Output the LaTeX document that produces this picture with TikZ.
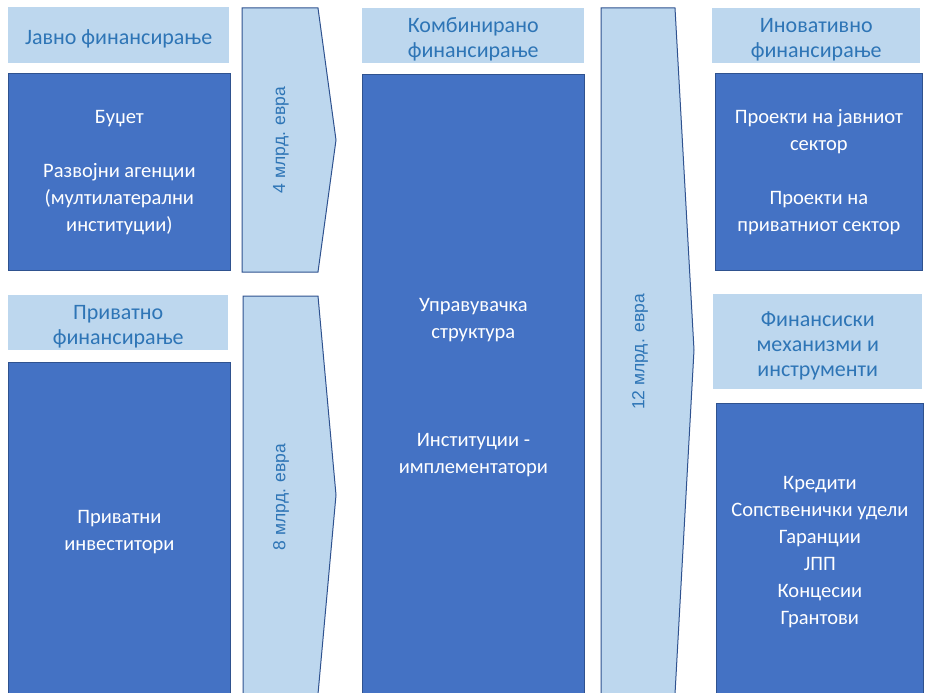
\documentclass[tikz,border=0pt]{standalone}
\usepackage{fontspec}
\setmainfont{Carlito}
\newfontfamily\amountfont{Liberation Sans}
\usetikzlibrary{positioning}

\definecolor{boxblue}{HTML}{4472C4}
\definecolor{boxedge}{HTML}{2F528F}
\definecolor{paleblue}{HTML}{BDD7EE}
\definecolor{headtext}{HTML}{2E75B6}

\newcommand\headstrut{\rule{0pt}{23pt}}

\tikzset{
  head/.style={fill=paleblue, text=headtext, align=center, inner sep=0pt,
    anchor=north west, font=\fontsize{22}{25}\selectfont},
  block/.style={fill=boxblue, draw=boxedge, line width=0.8pt, text=white,
    align=center, inner sep=0pt, font=\fontsize{20.5}{27}\selectfont},
  flow/.style={fill=paleblue, draw=boxedge, line width=1pt},
  amount/.style={text=headtext, rotate=90, font=\amountfont\fontsize{17.5}{21}\selectfont}
}

\begin{document}
\begin{tikzpicture}[x=1pt, y=-1pt]
  \useasboundingbox (0,0) rectangle (926,693);
  \clip (0,0) rectangle (926,693);

  % sources
  \node [head, minimum width=221pt, minimum height=56pt] (public) at (8,7) {\headstrut Јавно финансирање};
  \node [block, below=10pt of public.south west, anchor=north west,
    minimum width=222pt, minimum height=197pt] (budget)
    {Буџет\\[27pt]Развојни агенции\\(мултилатерални\\институции)};
  \node [head, minimum width=220pt, minimum height=55pt] (private) at (8,295) {\headstrut Приватно\\финансирање};
  \node [block, below=12pt of private.south west, anchor=north west,
    minimum width=222pt, minimum height=338pt] (investors)
    {Приватни\\инвеститори};

  % flows
  \draw [flow] (242,8) -- (318,8) -- (336,140) -- (318,272) -- (242,272) -- cycle;
  \node [amount] (four) at (281,140) {4 млрд. евра};
  \draw [flow] (243,296) -- (318,296) -- (336,495) -- (318,694) -- (243,694) -- cycle;
  \node [amount] (eight) at (281,497) {8 млрд. евра};

  % blended
  \node [head, minimum width=222pt, minimum height=55pt] (blended) at (362,8) {\headstrut Комбинирано\\финансирање};
  \node [block, below=11pt of blended.south west, anchor=north west,
    minimum width=222pt, minimum height=626pt] (structure)
    {Управувачка\\структура\\[81pt]Институции -\\имплементатори};

  \draw [flow] (601,8) -- (675,8) -- (694,350) -- (675,694) -- (601,694) -- cycle;
  \node [amount] (twelve) at (640,352) {12 млрд. евра};

  % innovative
  \node [head, minimum width=208pt, minimum height=55pt] (innov) at (712,8) {\headstrut Иновативно\\финансирање};
  \node [block, anchor=north west, minimum width=207pt, minimum height=197pt] (projects) at (715,73)
    {Проекти на јавниот\\сектор\\[27pt]Проекти на\\приватниот сектор};
  \node [head, minimum width=209pt, minimum height=95pt] (mechanisms) at (713,294)
    {\headstrut Финансиски\\механизми и\\инструменти};
  \node [block, anchor=north west, minimum width=207pt, minimum height=297pt] (instruments) at (716,403)
    {Кредити\\Сопственички удели\\Гаранции\\ЈПП\\Концесии\\Грантови};
\end{tikzpicture}
\end{document}
